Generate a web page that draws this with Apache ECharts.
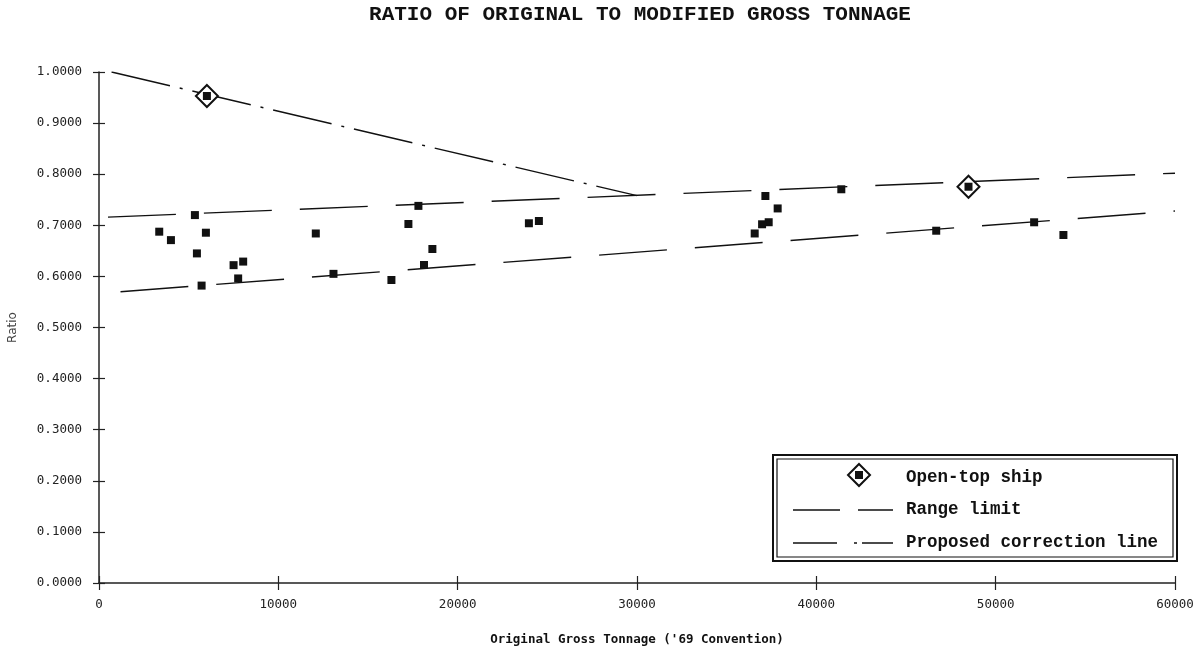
<!DOCTYPE html>
<html>
<head>
<meta charset="utf-8">
<script src="https://cdn.jsdelivr.net/npm/echarts@6/dist/echarts.min.js"></script>
<style>
  html, body { margin: 0; padding: 0; background: #fff; }
  #chart { width: 1203px; height: 653px; }
</style>
</head>
<body>
<div id="chart"></div>
<script>
// Texts
const titleText = 'RATIO OF ORIGINAL TO MODIFIED GROSS TONNAGE';
const xAxisName = "Original Gross Tonnage ('69 Convention)";
const yAxisName = 'Ratio';
const legendLabels = ['Open-top ship', 'Range limit', 'Proposed correction line'];

// Measured ships: original gross tonnage vs. ratio
const shipTonnage = [5348, 3359, 4011, 5961, 5460, 7504, 8039, 7760, 5721, 12089, 13075,
  17811, 17253, 18590, 18122, 16306, 23972, 24529, 37159, 37844, 37343, 36975, 36563,
  41393, 46685, 52145, 53777];
const shipRatio = [0.720, 0.6875, 0.671, 0.6855, 0.645, 0.622, 0.629, 0.596, 0.582, 0.684, 0.605,
  0.738, 0.7025, 0.6536, 0.6223, 0.593, 0.704, 0.7084, 0.7573, 0.733, 0.706, 0.702, 0.684,
  0.7705, 0.6894, 0.7059, 0.681];

// Open-top ships
const openTopTonnage = [6017, 48485];
const openTopRatio = [0.953, 0.7755];

// Range limits (upper and lower)
const upperLimitTonnage = [500, 60000];
const upperLimitRatio = [0.716, 0.802];
const lowerLimitTonnage = [1200, 60000];
const lowerLimitRatio = [0.570, 0.728];

// Proposed correction line
const correctionTonnage = [700, 30000];
const correctionRatio = [1.0, 0.758];

// Axis ranges
const xMin = 0, xMax = 60000, xStep = 10000;
const yMin = 0, yMax = 1, yStep = 0.1;

const pairs = (xs, ys) => xs.map((x, i) => [x, ys[i]]);

const INK = '#111';
const monoFont = '"Liberation Mono", "DejaVu Sans Mono", monospace';
const axisFont = '"DejaVu Sans Mono", monospace';

const chart = echarts.init(document.getElementById('chart'), null, { renderer: 'canvas' });

const baseX = { type: 'value', min: xMin, max: xMax, interval: xStep, splitLine: { show: false } };
const baseY = { type: 'value', min: yMin, max: yMax, interval: yStep, splitLine: { show: false } };

const option = {
  animation: false,
  backgroundColor: '#fff',
  grid: { left: 99, right: 28, top: 72, bottom: 70, containLabel: false, outerBoundsMode: 'none' },
  xAxis: [
    Object.assign({}, baseX, {
      position: 'bottom',
      name: xAxisName,
      nameLocation: 'middle',
      nameGap: 50,
      nameTextStyle: { fontFamily: axisFont, fontWeight: 'bold', fontSize: 12.5, color: '#111' },
      axisLine: { show: true, onZero: false, lineStyle: { color: '#222', width: 1.5 } },
      axisTick: { show: true, inside: false, length: 7, lineStyle: { color: '#222', width: 1.2 } },
      axisLabel: { margin: 15, fontFamily: axisFont, fontSize: 12.5, color: '#222', formatter: v => String(v) }
    }),
    Object.assign({}, baseX, {
      position: 'bottom',
      axisLine: { show: false, onZero: false },
      axisTick: { show: true, inside: true, length: 7, lineStyle: { color: '#222', width: 1.2 } },
      axisLabel: { show: false }
    })
  ],
  yAxis: [
    Object.assign({}, baseY, {
      position: 'left',
      name: yAxisName,
      nameLocation: 'middle',
      nameGap: 80,
      nameRotate: 90,
      nameTextStyle: { fontFamily: '"DejaVu Sans", sans-serif', fontSize: 12, color: '#444' },
      axisLine: { show: true, onZero: false, lineStyle: { color: '#222', width: 1.5 } },
      axisTick: { show: true, inside: false, length: 6, lineStyle: { color: '#222', width: 1.2 } },
      axisLabel: {
        margin: 17, fontFamily: axisFont, fontSize: 12.5, color: '#222',
        formatter: v => v.toFixed(4)
      }
    }),
    Object.assign({}, baseY, {
      position: 'left',
      axisLine: { show: false, onZero: false },
      axisTick: { show: true, inside: true, length: 6, lineStyle: { color: '#222', width: 1.2 } },
      axisLabel: { show: false }
    })
  ],
  series: [
    {
      name: legendLabels[1],
      type: 'line',
      data: pairs(upperLimitTonnage, upperLimitRatio),
      showSymbol: false,
      silent: true,
      lineStyle: { color: INK, width: 1.4, type: [68, 28] },
      z: 2
    },
    {
      name: legendLabels[1],
      type: 'line',
      data: pairs(lowerLimitTonnage, lowerLimitRatio),
      showSymbol: false,
      silent: true,
      lineStyle: { color: INK, width: 1.4, type: [68, 28] },
      z: 2
    },
    {
      name: legendLabels[2],
      type: 'line',
      data: pairs(correctionTonnage, correctionRatio),
      showSymbol: false,
      silent: true,
      lineStyle: { color: INK, width: 1.4, type: [60, 10, 3, 10] },
      z: 2
    },
    {
      name: 'Ships',
      type: 'scatter',
      data: pairs(shipTonnage, shipRatio),
      symbol: 'rect',
      symbolSize: 8,
      itemStyle: { color: INK, opacity: 1 },
      z: 4
    },
    {
      name: legendLabels[0],
      type: 'scatter',
      data: pairs(openTopTonnage, openTopRatio),
      symbol: 'diamond',
      symbolSize: 22,
      itemStyle: { color: '#fff', borderColor: INK, borderWidth: 2, opacity: 1 },
      z: 5
    },
    {
      name: legendLabels[0] + ' core',
      type: 'scatter',
      data: pairs(openTopTonnage, openTopRatio),
      symbol: 'rect',
      symbolSize: 8,
      itemStyle: { color: INK, opacity: 1 },
      z: 6
    }
  ],
  graphic: [
    // Title
    {
      type: 'text', x: 640, y: 15, z: 10,
      style: {
        text: titleText, align: 'center', verticalAlign: 'middle',
        font: 'bold 21px ' + monoFont, fill: '#111'
      }
    },
    // Legend frame (double border)
    {
      type: 'rect', z: 10,
      shape: { x: 773, y: 455, width: 404, height: 106 },
      style: { fill: '#fff', stroke: '#111', lineWidth: 2 }
    },
    {
      type: 'rect', z: 11,
      shape: { x: 777, y: 459, width: 396, height: 98 },
      style: { fill: 'none', stroke: '#111', lineWidth: 1.2 }
    },
    // Legend: open-top ship symbol
    {
      type: 'polygon', z: 12,
      shape: { points: [[859, 464], [870, 475], [859, 486], [848, 475]] },
      style: { fill: '#fff', stroke: '#111', lineWidth: 2 }
    },
    {
      type: 'rect', z: 13,
      shape: { x: 855, y: 471, width: 8, height: 8 },
      style: { fill: '#111' }
    },
    // Legend: range limit sample
    {
      type: 'line', z: 12,
      shape: { x1: 793, y1: 510, x2: 893, y2: 510 },
      style: { stroke: '#111', lineWidth: 1.4, lineDash: [47, 18] }
    },
    // Legend: correction line sample
    {
      type: 'line', z: 12,
      shape: { x1: 793, y1: 543, x2: 893, y2: 543 },
      style: { stroke: '#111', lineWidth: 1.4, lineDash: [44, 17, 3, 5] }
    },
    // Legend labels
    {
      type: 'text', x: 906, y: 478, z: 12,
      style: { text: legendLabels[0], verticalAlign: 'middle', font: 'bold 17.5px ' + monoFont, fill: '#111' }
    },
    {
      type: 'text', x: 906, y: 510, z: 12,
      style: { text: legendLabels[1], verticalAlign: 'middle', font: 'bold 17.5px ' + monoFont, fill: '#111' }
    },
    {
      type: 'text', x: 906, y: 543, z: 12,
      style: { text: legendLabels[2], verticalAlign: 'middle', font: 'bold 17.5px ' + monoFont, fill: '#111' }
    }
  ]
};

chart.setOption(option);
</script>
</body>
</html>
